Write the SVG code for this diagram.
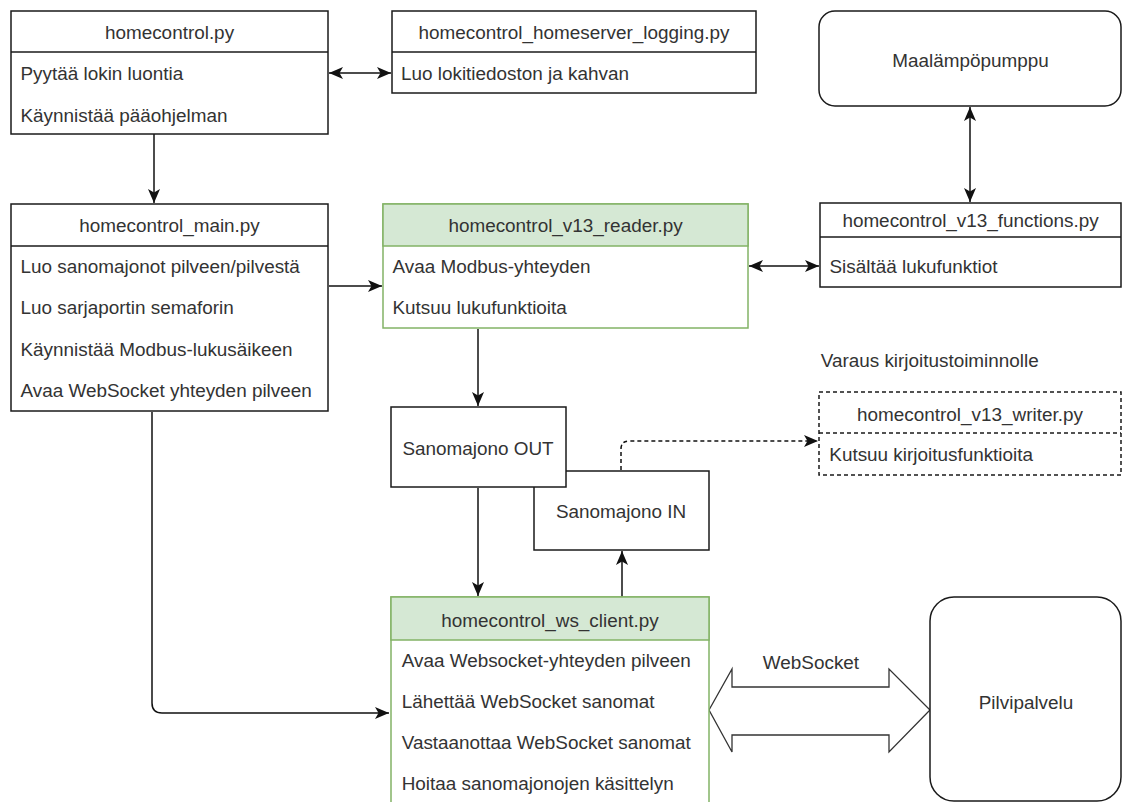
<svg xmlns="http://www.w3.org/2000/svg" width="1123" height="802" viewBox="0 0 1123 802">
  <style>
    text { font-family: "Liberation Sans", Arial, Helvetica, sans-serif; font-size: 18.9px; fill: #333333; }
    .mid { text-anchor: middle; }
    .box { fill: #ffffff; stroke: #1a1a1a; stroke-width: 1.5; }
    .green { fill: #ffffff; stroke: #82b366; stroke-width: 1.5; }
    .greenHead { fill: #d5e8d4; stroke: #82b366; stroke-width: 1.5; }
    .dashed { fill: #ffffff; stroke: #1a1a1a; stroke-width: 1.5; stroke-dasharray: 4 3; }
    .edge { fill: none; stroke: #111111; stroke-width: 1.5; }
    .edgeDash { fill: none; stroke: #111111; stroke-width: 1.5; stroke-dasharray: 4 3; }
    .bigArrow { fill: #ffffff; stroke: #333333; stroke-width: 1.3; }
  </style>
  <defs>
    <marker id="arrow" viewBox="-15 -7 16 14" refX="0" refY="0" markerWidth="16" markerHeight="14" markerUnits="userSpaceOnUse" orient="auto-start-reverse">
      <path d="M0,0 L-14,-6 L-10.5,0 L-14,6 Z" fill="#111111"/>
    </marker>
  </defs>

  <rect width="1123" height="802" fill="#ffffff"/>

  <!-- connectors -->
  <g id="connectors">
    <path class="edge" d="M329,73 H391" marker-start="url(#arrow)" marker-end="url(#arrow)"/>
    <path class="edge" d="M154,134 V203" marker-end="url(#arrow)"/>
    <path class="edge" d="M329,286 H382" marker-end="url(#arrow)"/>
    <path class="edge" d="M749,266 H819" marker-start="url(#arrow)" marker-end="url(#arrow)"/>
    <path class="edge" d="M970,107 V202" marker-start="url(#arrow)" marker-end="url(#arrow)"/>
    <path class="edge" d="M478,329 V406" marker-end="url(#arrow)"/>
    <path class="edge" d="M478,488 V596" marker-end="url(#arrow)"/>
    <path class="edge" d="M622,597 V551" marker-end="url(#arrow)"/>
    <path class="edgeDash" d="M621,470 V449 Q621,441 629,441 H818" marker-end="url(#arrow)"/>
    <path class="edge" d="M152,412 V703 Q152,713 162,713 H389" marker-end="url(#arrow)"/>
    <!-- WebSocket double arrow -->
    <polygon class="bigArrow" points="709,710 732,669 732,687 889,687 889,669 930,710 889,752 889,735 732,735 732,752"/>
    <text class="mid" x="811" y="669">WebSocket</text>
  </g>

  <!-- homecontrol.py -->
  <g id="homecontrol">
    <rect class="box" x="11" y="11" width="317" height="123"/>
    <line class="box" x1="11" y1="52" x2="328" y2="52"/>
    <text class="mid" x="169.5" y="38.5">homecontrol.py</text>
    <text x="20.5" y="80">Pyytää lokin luontia</text>
    <text x="20.5" y="121.5">Käynnistää pääohjelman</text>
  </g>

  <!-- homecontrol_homeserver_logging.py -->
  <g id="logging">
    <rect class="box" x="392" y="11" width="364" height="82"/>
    <line class="box" x1="392" y1="52" x2="756" y2="52"/>
    <text class="mid" x="574" y="38.5">homecontrol_homeserver_logging.py</text>
    <text x="401" y="80">Luo lokitiedoston ja kahvan</text>
  </g>

  <!-- Maalämpöpumppu -->
  <g id="heatpump">
    <rect class="box" x="819" y="11" width="302" height="95" rx="16" ry="16"/>
    <text class="mid" x="970.5" y="66.5">Maalämpöpumppu</text>
  </g>

  <!-- homecontrol_main.py -->
  <g id="main">
    <rect class="box" x="11" y="204" width="317" height="207"/>
    <line class="box" x1="11" y1="246" x2="328" y2="246"/>
    <text class="mid" x="169.5" y="232">homecontrol_main.py</text>
    <text x="20.5" y="273.3">Luo sanomajonot pilveen/pilvestä</text>
    <text x="20.5" y="314.3">Luo sarjaportin semaforin</text>
    <text x="20.5" y="356">Käynnistää Modbus-lukusäikeen</text>
    <text x="20.5" y="396.7">Avaa WebSocket yhteyden pilveen</text>
  </g>

  <!-- homecontrol_v13_reader.py -->
  <g id="reader">
    <rect class="green" x="383" y="204" width="365" height="124"/>
    <rect class="greenHead" x="383" y="204" width="365" height="42"/>
    <text class="mid" x="565.5" y="232">homecontrol_v13_reader.py</text>
    <text x="392.5" y="273.3">Avaa Modbus-yhteyden</text>
    <text x="392.5" y="314.3">Kutsuu lukufunktioita</text>
  </g>

  <!-- homecontrol_v13_functions.py -->
  <g id="functions">
    <rect class="box" x="820" y="203" width="301" height="84"/>
    <line class="box" x1="820" y1="237" x2="1121" y2="237"/>
    <text class="mid" x="970.5" y="227">homecontrol_v13_functions.py</text>
    <text x="829.5" y="273.3">Sisältää lukufunktiot</text>
  </g>

  <!-- Sanomajono IN (drawn below OUT) -->
  <g id="queue-in">
    <rect class="box" x="534" y="471" width="175" height="79"/>
    <text class="mid" x="621" y="518.3">Sanomajono IN</text>
  </g>

  <!-- Sanomajono OUT -->
  <g id="queue-out">
    <rect class="box" x="391" y="407" width="175" height="80"/>
    <text class="mid" x="478" y="455">Sanomajono OUT</text>
  </g>

  <!-- homecontrol_v13_writer.py (reserved) -->
  <g id="writer">
    <text x="820.7" y="367.3">Varaus kirjoitustoiminnolle</text>
    <rect class="dashed" x="819" y="392" width="302" height="83"/>
    <line class="dashed" x1="819" y1="433" x2="1121" y2="433"/>
    <text class="mid" x="970" y="420.5">homecontrol_v13_writer.py</text>
    <text x="829.3" y="460.7">Kutsuu kirjoitusfunktioita</text>
  </g>

  <!-- homecontrol_ws_client.py -->
  <g id="ws-client">
    <rect class="green" x="391" y="597" width="318" height="230"/>
    <rect class="greenHead" x="391" y="597" width="318" height="43"/>
    <text class="mid" x="550" y="626.7">homecontrol_ws_client.py</text>
    <text x="401.7" y="667.3">Avaa Websocket-yhteyden pilveen</text>
    <text x="401.7" y="708.3">Lähettää WebSocket sanomat</text>
    <text x="401.7" y="749.3">Vastaanottaa WebSocket sanomat</text>
    <text x="401.7" y="790">Hoitaa sanomajonojen käsittelyn</text>
  </g>

  <!-- Pilvipalvelu -->
  <g id="cloud">
    <rect class="box" x="930" y="597" width="191" height="204" rx="24" ry="24"/>
    <text class="mid" x="1026" y="709.3">Pilvipalvelu</text>
  </g>
</svg>
